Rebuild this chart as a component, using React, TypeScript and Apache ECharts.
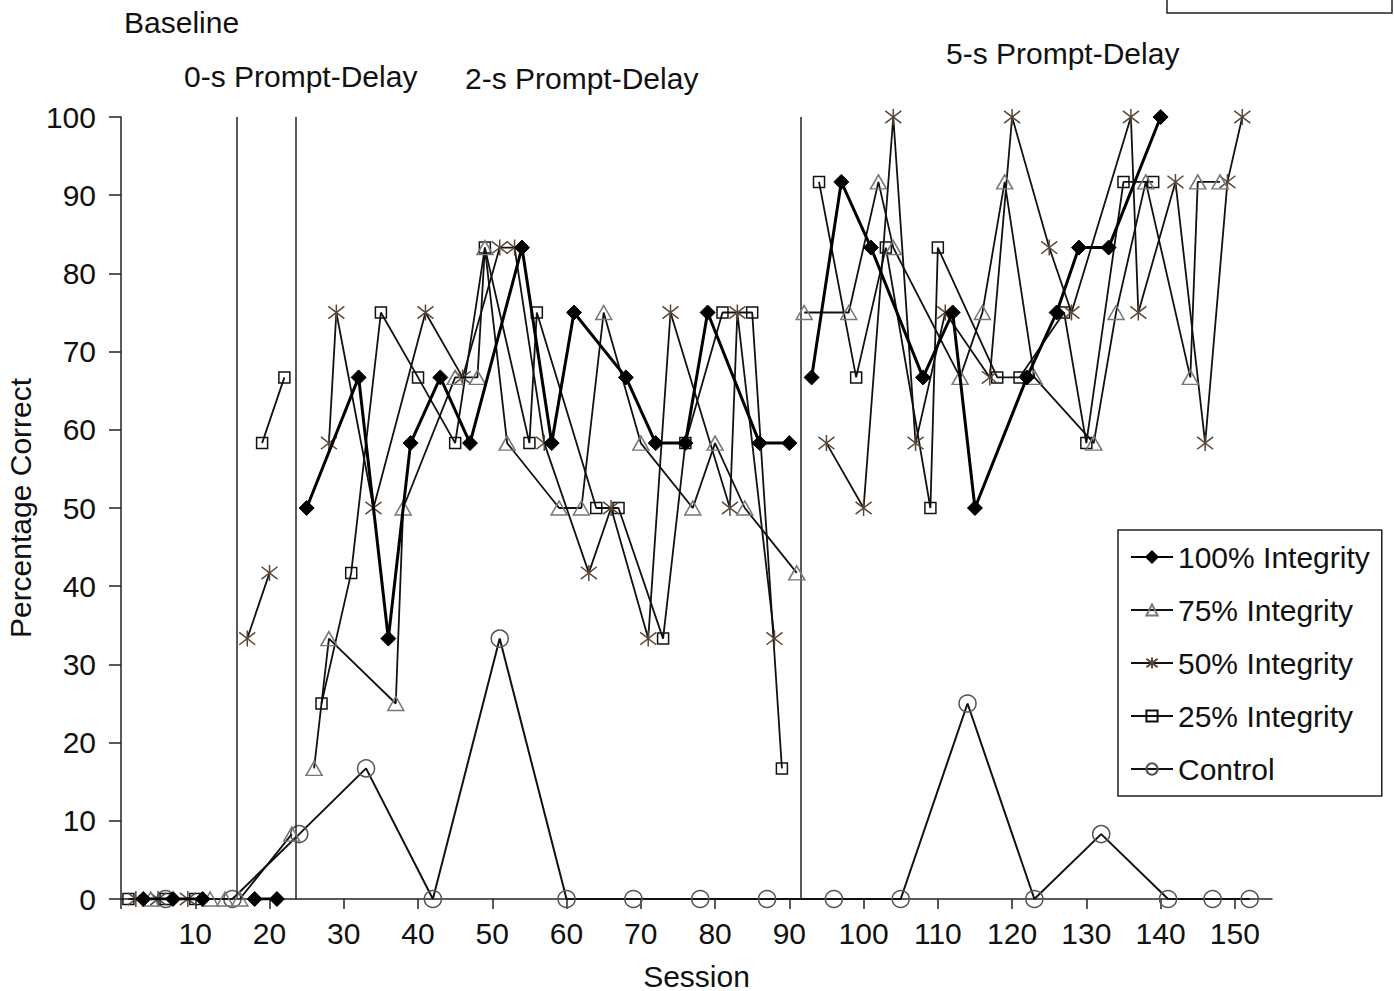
import React, { useEffect, useRef } from "react";
import * as echarts from "echarts";

const FONT = '"Liberation Sans", Arial, sans-serif';
const TXT = "#111";

// x axis tick labels and ticks (sessions)
const xLabelValues = [10, 20, 30, 40, 50, 60, 70, 80, 90, 100, 110, 120, 130, 140, 150];
const xTickValues = [0, 10, 20, 30, 40, 50, 60, 70, 80, 90, 100, 110, 120, 130, 140, 150];

// phase-change lines (session positions)
const phaseChanges = [15.6, 23.6, 91.5];

// null = break between phases
const integrity100: ([number, number] | null)[] = [
  [3, 0], [7, 0], [11, 0], null,
  [18, 0], [21, 0], null,
  [25, 50], [32, 66.7], [36, 33.3], [39, 58.3], [43, 66.7], [47, 58.3], [54, 83.3], [58, 58.3],
  [61, 75], [68, 66.7], [72, 58.3], [76, 58.3], [79, 75], [86, 58.3], [90, 58.3], null,
  [93, 66.7], [97, 91.7], [101, 83.3], [108, 66.7], [112, 75], [115, 50], [122, 66.7], [126, 75],
  [129, 83.3], [133, 83.3], [140, 100],
];

const integrity75: ([number, number] | null)[] = [
  [4, 0], [12, 0], [14, 0], null,
  [16, 0], [23, 8.3], null,
  [26, 16.7], [28, 33.3], [37, 25], [38, 50], [45, 66.7], [48, 66.7], [49, 83.3], [52, 58.3],
  [59, 50], [62, 50], [65, 75], [70, 58.3], [77, 50], [80, 58.3], [84, 50], [91, 41.7], null,
  [92, 75], [98, 75], [102, 91.7], [104, 83.3], [113, 66.7], [116, 75], [119, 91.7], [123, 66.7],
  [131, 58.3], [134, 75], [138, 91.7], [144, 66.7], [145, 91.7], [148, 91.7],
];

const integrity50: ([number, number] | null)[] = [
  [2, 0], [5, 0], [9, 0], null,
  [17, 33.3], [20, 41.7], null,
  [28, 58.3], [29, 75], [34, 50], [41, 75], [46, 66.7], [51, 83.3], [53, 83.3], [57, 58.3],
  [63, 41.7], [66, 50], [71, 33.3], [74, 75], [82, 50], [83, 75], [88, 33.3], null,
  [95, 58.3], [100, 50], [104, 100], [107, 58.3], [111, 75], [117, 66.7], [120, 100], [125, 83.3],
  [128, 75], [136, 100], [137, 75], [142, 91.7], [146, 58.3], [149, 91.7], [151, 100],
];

const integrity25: ([number, number] | null)[] = [
  [1, 0], [6, 0], [10, 0], null,
  [19, 58.3], [22, 66.7], null,
  [27, 25], [31, 41.7], [35, 75], [40, 66.7], [45, 58.3], [49, 83.3], [55, 58.3], [56, 75],
  [64, 50], [67, 50], [73, 33.3], [76, 58.3], [81, 75], [85, 75], [89, 16.7], null,
  [94, 91.7], [99, 66.7], [103, 83.3], [109, 50], [110, 83.3], [118, 66.7], [121, 66.7], [127, 75],
  [130, 58.3], [135, 91.7], [139, 91.7],
];

const control: ([number, number] | null)[] = [
  [6, 0], [15, 0], [24, 8.3], [33, 16.7], [42, 0], [51, 33.3], [60, 0], [69, 0], [78, 0], [87, 0],
  [96, 0], [105, 0], [114, 25], [123, 0], [132, 8.3], [141, 0], [147, 0], [152, 0],
];

const seriesNames = ["100% Integrity", "75% Integrity", "50% Integrity", "25% Integrity", "Control"];

const ASTERISK = "path://M0,0L10,10M10,0L0,10M5,-1.5L5,11.5";

function prep(d: ([number, number] | null)[]) {
  return d.map((p) => (p === null ? ["-", "-"] : p));
}

export default function App() {
  const ref = useRef<HTMLDivElement>(null);
  useEffect(() => {
    document.body.style.margin = "0";
    const chart = echarts.init(ref.current!, null, { renderer: "svg" });
    const base = {
      type: "line",
      connectNulls: false,
      animation: false,
    };
    const option: any = {
      animation: false,
      backgroundColor: "#fff",
      textStyle: { fontFamily: FONT, color: TXT },
      grid: { left: 121, right: 122, top: 117, bottom: 92, containLabel: false, outerBoundsMode: "none" },
      xAxis: {
        type: "value",
        min: 0,
        max: 155,
        interval: 10,
        name: "Session",
        nameLocation: "middle",
        nameGap: 62,
        nameTextStyle: { fontSize: 30, color: TXT, fontFamily: FONT },
        axisLine: { show: true, onZero: false, lineStyle: { color: "#222", width: 1.5 } },
        axisTick: { show: true, length: 10, lineStyle: { color: "#222", width: 1.5 }, customValues: xTickValues },
        axisLabel: { fontSize: 30, color: TXT, fontFamily: FONT, margin: 19, customValues: xLabelValues },
        splitLine: { show: false },
      },
      yAxis: {
        type: "value",
        min: 0,
        max: 100,
        interval: 10,
        name: "Percentage Correct",
        nameLocation: "middle",
        nameGap: 84,
        nameRotate: 90,
        nameTextStyle: { fontSize: 30, color: TXT, fontFamily: FONT },
        axisLine: { show: true, onZero: false, lineStyle: { color: "#222", width: 1.5 } },
        axisTick: { show: true, length: 12, lineStyle: { color: "#222", width: 1.5 } },
        axisLabel: { fontSize: 30, color: TXT, fontFamily: FONT, margin: 25 },
        splitLine: { show: false },
      },
      legend: {
        orient: "vertical",
        left: 1118,
        top: 530,
        padding: [12, 12, 12, 12],
        itemGap: 23,
        itemWidth: 42,
        itemHeight: 14,
        borderColor: "#222",
        borderWidth: 1.5,
        backgroundColor: "#fff",
        textStyle: { fontSize: 30, color: TXT, fontFamily: FONT, lineHeight: 30 },
        data: seriesNames,
      },
      graphic: [
        { type: "text", x: 124, y: 22, style: { text: "Baseline", fontSize: 30, fontFamily: FONT, fill: TXT, verticalAlign: "middle" } },
        { type: "text", x: 184, y: 76, style: { text: "0-s Prompt-Delay", fontSize: 30, fontFamily: FONT, fill: TXT, verticalAlign: "middle" } },
        { type: "text", x: 465, y: 78, style: { text: "2-s Prompt-Delay", fontSize: 30, fontFamily: FONT, fill: TXT, verticalAlign: "middle" } },
        { type: "text", x: 946, y: 53, style: { text: "5-s Prompt-Delay", fontSize: 30, fontFamily: FONT, fill: TXT, verticalAlign: "middle" } },
        { type: "rect", shape: { x: 1167, y: -20, width: 225, height: 33 }, style: { fill: "none", stroke: "#222", lineWidth: 1.5 } },
      ],
      series: [
        {
          ...base,
          name: "Control",
          data: prep(control),
          symbol: "circle",
          symbolSize: 17,
          z: 2,
          lineStyle: { color: "#111", width: 2 },
          itemStyle: { color: "rgba(255,255,255,0)", borderColor: "#555", borderWidth: 1.5 },
          markLine: {
            silent: true,
            symbol: "none",
            label: { show: false },
            lineStyle: { color: "#222", width: 1.5, type: "solid" },
            data: phaseChanges.map((x) => ({ xAxis: x })),
          },
        },
        {
          ...base,
          name: "25% Integrity",
          data: prep(integrity25),
          symbol: "rect",
          symbolSize: 11,
          z: 3,
          lineStyle: { color: "#111", width: 1.8 },
          itemStyle: { color: "rgba(255,255,255,0)", borderColor: "#111", borderWidth: 1.5 },
        },
        {
          ...base,
          name: "50% Integrity",
          data: prep(integrity50),
          symbol: ASTERISK,
          symbolSize: 16,
          z: 4,
          lineStyle: { color: "#111", width: 1.8 },
          itemStyle: { color: "rgba(255,255,255,0)", borderColor: "#5a4636", borderWidth: 1.5 },
        },
        {
          ...base,
          name: "75% Integrity",
          data: prep(integrity75),
          symbol: "triangle",
          symbolSize: [16, 14],
          z: 5,
          lineStyle: { color: "#111", width: 1.8 },
          itemStyle: { color: "rgba(255,255,255,0)", borderColor: "#777", borderWidth: 1.5 },
        },
        {
          ...base,
          name: "100% Integrity",
          data: prep(integrity100),
          symbol: "diamond",
          symbolSize: 15,
          z: 6,
          lineStyle: { color: "#000", width: 3 },
          itemStyle: { color: "#000", borderColor: "#000", borderWidth: 1 },
        },
      ],
    };
    chart.setOption(option);
    return () => chart.dispose();
  }, []);
  return <div ref={ref} style={{ width: 1394, height: 991 }} />;
}
